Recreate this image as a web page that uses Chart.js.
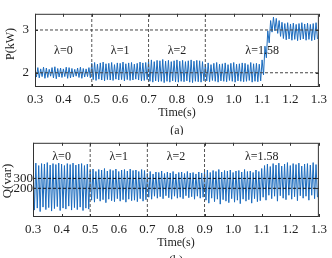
<!DOCTYPE html>
<html>
<head>
<meta charset="utf-8">
<script src="https://cdn.jsdelivr.net/npm/chart.js@4.4.0/dist/chart.umd.min.js"></script>
<style>
  html, body { margin: 0; padding: 0; background: #fff; overflow: hidden; }
  .box { position: absolute; left: 0; width: 332px; }
  #boxP { top: 0; height: 135px; }
  #boxQ { top: 135px; height: 140px; }
</style>
</head>
<body>
<div class="box" id="boxP"><canvas id="pChart"></canvas></div>
<div class="box" id="boxQ"><canvas id="qChart"></canvas></div>
<script>
// 時間軸刻度
const xTicks = [0.3, 0.4, 0.5, 0.6, 0.7, 0.8, 0.9, 1.0, 1.1, 1.2, 1.3];
const pTicks = [2, 3];
const qTicks = [200, 300];
const switchTimes = [0.5, 0.7, 0.9];
const lambdaLabels = ['λ=0', 'λ=1', 'λ=2', 'λ=1.58'];
const lambdaTimes = [0.4, 0.6, 0.8, 1.1];

// 有功功率 P(kW)：每 0.01s 一個波峰、一個波谷
const pPeak = [
  2.10, 2.12, 2.09, 2.13, 2.11, 2.08, 2.12, 2.14, 2.10, 2.11, 2.09, 2.13, 2.12, 2.10, 2.08, 2.11, 2.13, 2.10, 2.09, 2.12,
  2.22, 2.24, 2.20, 2.23, 2.25, 2.21, 2.22, 2.24, 2.19, 2.23, 2.22, 2.25, 2.21, 2.23, 2.24, 2.20, 2.22, 2.25, 2.23, 2.24,
  2.27, 2.30, 2.26, 2.29, 2.28, 2.31, 2.27, 2.29, 2.26, 2.28, 2.30, 2.27, 2.29, 2.26, 2.28, 2.30, 2.27, 2.29, 2.28, 2.26,
  2.20, 2.23, 2.19, 2.22, 2.24, 2.20, 2.21, 2.23, 2.19, 2.22, 2.24, 2.20, 2.21, 2.23, 2.22, 2.19, 2.24, 2.21, 2.22, 2.20,
  2.30, 2.62, 2.98, 3.22, 3.30, 3.27, 3.22, 3.18, 3.15, 3.17, 3.14, 3.16, 3.13, 3.15, 3.17, 3.14, 3.16, 3.13, 3.15, 3.17
];
const pTrough = [
  1.90, 1.88, 1.91, 1.87, 1.89, 1.92, 1.88, 1.86, 1.90, 1.89, 1.91, 1.87, 1.88, 1.90, 1.92, 1.89, 1.87, 1.90, 1.91, 1.88,
  1.84, 1.82, 1.85, 1.83, 1.81, 1.84, 1.83, 1.82, 1.85, 1.83, 1.84, 1.81, 1.84, 1.82, 1.83, 1.85, 1.83, 1.81, 1.82, 1.84,
  1.80, 1.78, 1.81, 1.79, 1.80, 1.77, 1.80, 1.78, 1.81, 1.79, 1.78, 1.80, 1.79, 1.81, 1.78, 1.77, 1.80, 1.79, 1.78, 1.81,
  1.81, 1.79, 1.82, 1.80, 1.78, 1.81, 1.80, 1.79, 1.82, 1.80, 1.78, 1.81, 1.80, 1.79, 1.80, 1.82, 1.78, 1.80, 1.79, 1.81,
  1.95, 2.35, 2.70, 2.95, 2.98, 2.92, 2.85, 2.80, 2.77, 2.79, 2.76, 2.78, 2.75, 2.77, 2.79, 2.76, 2.78, 2.75, 2.77, 2.79
];

// 無功功率 Q(var)
const qPeak = [
  440, 455, 430, 450, 445, 460, 435, 450, 440, 455, 445, 430, 450, 440, 455, 435, 445, 450, 430, 445,
  380, 395, 370, 390, 385, 400, 375, 390, 380, 395, 370, 385, 390, 375, 395, 380, 385, 370, 390, 380,
  350, 370, 345, 365, 360, 375, 350, 365, 355, 370, 345, 360, 365, 350, 370, 355, 360, 345, 365, 355,
  365, 385, 360, 380, 370, 390, 365, 380, 375, 385, 360, 375, 380, 365, 390, 370, 375, 360, 385, 370,
  400, 430, 445, 420, 450, 435, 455, 425, 445, 460, 430, 450, 440, 455, 425, 445, 450, 435, 460, 440
];
const qTrough = [
  -20, 0, -35, 10, -15, 5, -30, -5, 15, -25, 0, -10, 20, -20, 5, -15, 10, -25, 0, -10,
  80, 60, 95, 70, 85, 55, 90, 75, 65, 95, 70, 85, 60, 90, 75, 80, 65, 95, 70, 85,
  110, 90, 120, 100, 115, 95, 125, 105, 90, 120, 100, 110, 95, 125, 105, 115, 90, 120, 100, 110,
  80, 50, 100, 65, 90, 40, 85, 70, 55, 95, 60, 80, 45, 90, 70, 85, 50, 95, 65, 75,
  110, 80, 130, 95, 120, 70, 125, 100, 85, 130, 90, 115, 75, 125, 100, 120, 80, 130, 95, 110
];

const FONT = '"Liberation Serif", "Times New Roman", serif';
const BLUE = 'rgb(28, 108, 190)';

// 把波峰、波谷交錯成曲線點
function buildSeries(peaks, troughs) {
  const pts = [];
  for (let i = 0; i < peaks.length; i++) {
    pts.push({ x: 0.3 + i * 0.01, y: peaks[i] });
    pts.push({ x: 0.305 + i * 0.01, y: troughs[i] });
  }
  return pts;
}

function dashedLine(points, color) {
  return {
    data: points,
    borderColor: color,
    borderWidth: 1,
    borderDash: [3, 2],
    pointRadius: 0,
    fill: false
  };
}

// 邊框、內向刻度和文字
const framePlugin = {
  id: 'frame',
  afterDraw(chart, args, opts) {
    const { ctx, chartArea: a, scales } = chart;
    const xs = scales.x, ys = scales.y;
    ctx.save();
    ctx.strokeStyle = '#333';
    ctx.lineWidth = 1;
    ctx.strokeRect(a.left + 0.5, a.top + 0.5, a.right - a.left - 1, a.bottom - a.top - 1);
    ctx.beginPath();
    xTicks.forEach(v => {
      const px = Math.round(xs.getPixelForValue(v)) + 0.5;
      ctx.moveTo(px, a.bottom); ctx.lineTo(px, a.bottom - 3);
      ctx.moveTo(px, a.top); ctx.lineTo(px, a.top + 3);
    });
    opts.yTicks.forEach(v => {
      const py = Math.round(ys.getPixelForValue(v)) + 0.5;
      ctx.moveTo(a.left, py); ctx.lineTo(a.left + 3, py);
      ctx.moveTo(a.right, py); ctx.lineTo(a.right - 3, py);
    });
    ctx.stroke();

    ctx.fillStyle = '#222';
    ctx.textAlign = 'center';
    ctx.textBaseline = 'middle';
    ctx.font = '12px ' + FONT;
    lambdaLabels.forEach((t, i) => {
      ctx.fillText(t, xs.getPixelForValue(lambdaTimes[i]), opts.lambdaY);
    });
    ctx.fillText('Time(s)', (a.left + a.right) / 2, opts.timeY);
    ctx.fillText(opts.caption, (a.left + a.right) / 2, opts.captionY);

    ctx.save();
    ctx.translate(opts.yTitleX, opts.yTitleY);
    ctx.rotate(-Math.PI / 2);
    ctx.font = opts.yTitleSize + 'px ' + FONT;
    ctx.fillText(opts.yTitle, 0, 0);
    ctx.restore();
    ctx.restore();
  }
};

function makeChart(id, cfg) {
  const vLines = switchTimes.map(t => dashedLine([{ x: t, y: cfg.min }, { x: t, y: cfg.max }], '#555'));
  const hLines = cfg.yTicks.map(v => dashedLine([{ x: 0.3, y: v }, { x: 1.3, y: v }], cfg.hColor));
  return new Chart(document.getElementById(id), {
    type: 'line',
    data: {
      datasets: [...hLines, ...vLines, {
        data: buildSeries(cfg.peaks, cfg.troughs),
        borderColor: BLUE,
        borderWidth: 1,
        pointRadius: 0,
        tension: 0,
        fill: false
      }]
    },
    options: {
      responsive: true,
      maintainAspectRatio: false,
      animation: false,
      layout: { padding: { top: cfg.top, right: cfg.right, left: 0, bottom: 0 } },
      plugins: {
        legend: { display: false },
        tooltip: { enabled: false },
        frame: cfg.frame
      },
      scales: {
        x: {
          type: 'linear',
          min: 0.3,
          max: 1.3,
          grid: { display: false, drawTicks: false },
          border: { display: false },
          afterBuildTicks: s => { s.ticks = xTicks.map(v => ({ value: v })); },
          afterFit: s => { s.height = cfg.xHeight; },
          ticks: {
            padding: cfg.xPad,
            color: '#222',
            maxRotation: 0,
            autoSkip: false,
            font: { family: FONT, size: 13 },
            callback: v => v.toFixed(1)
          }
        },
        y: {
          min: cfg.min,
          max: cfg.max,
          grid: { display: false, drawTicks: false },
          border: { display: false },
          afterBuildTicks: s => { s.ticks = cfg.yTicks.map(v => ({ value: v })); },
          afterFit: s => { s.width = cfg.left; },
          ticks: {
            padding: cfg.yPad,
            color: '#222',
            font: { family: FONT, size: 13 },
            callback: v => String(v)
          }
        }
      }
    },
    plugins: [framePlugin]
  });
}

makeChart('pChart', {
  peaks: pPeak, troughs: pTrough, yTicks: pTicks,
  min: 1.667, max: 3.378, hColor: '#444',
  top: 10, right: 8, left: 35, xHeight: 48, xPad: 5, yPad: 6,
  frame: { yTicks: pTicks, lambdaY: 51, timeY: 113, caption: '(a)', captionY: 131,
           yTitle: 'P(kW)', yTitleX: 11, yTitleY: 44, yTitleSize: 12 }
});

makeChart('qChart', {
  peaks: qPeak, troughs: qTrough, yTicks: qTicks,
  min: -90, max: 660, hColor: '#111',
  top: 7, right: 9, left: 33, xHeight: 58, xPad: 5, yPad: 0,
  frame: { yTicks: qTicks, lambdaY: 22, timeY: 108, caption: '(b)', captionY: 126,
           yTitle: 'Q(var)', yTitleX: 8, yTitleY: 46, yTitleSize: 13 }
});
</script>
</body>
</html>
